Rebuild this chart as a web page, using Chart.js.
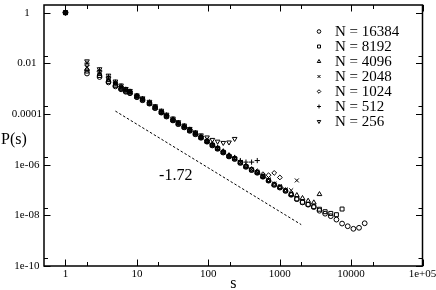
<!DOCTYPE html>
<html>
<head>
<meta charset="utf-8">
<script src="https://cdn.jsdelivr.net/npm/chart.js@4.4.1/dist/chart.umd.min.js"></script>
<style>
  html, body { margin: 0; padding: 0; background: #fff; }
  #wrap { width: 436px; height: 290px; }
</style>
</head>
<body>
<div id="wrap"><canvas id="chart" width="436" height="290"></canvas></div>
<script>
// avalanche sizes (log binned)
const sizes = [1, 2, 3, 4, 5, 6, 7, 8, 10, 12, 15, 18, 22, 26, 32, 38, 46, 55, 66, 79,
  96, 114, 135, 162, 195, 234, 281, 337, 404, 485, 582, 698, 838, 1006, 1207, 1448, 1738,
  2086, 2503, 3004, 3605, 4326, 5191, 6229, 7475, 8970, 10764, 12917, 15500];

const pN16384 = [1, 3.95e-3, 2.88e-3, 1.76e-3, 1.23e-3, 9.40e-4, 7.51e-4, 6.57e-4, 4.59e-4,
  3.48e-4, 2.55e-4, 1.70e-4, 1.13e-4, 7.9e-5, 5.55e-5, 3.97e-5, 2.95e-5, 2.16e-5, 1.58e-5, 1.15e-5,
  8.05e-6, 5.72e-6, 4.22e-6, 3.0e-6, 2.1e-6, 1.67e-6, 1.17e-6, 8.2e-7, 6.1e-7, 4.77e-7,
  3.33e-7, 2.33e-7, 1.59e-7, 1.24e-7, 9.2e-8, 6.45e-8, 4.35e-8, 3.23e-8, 2.63e-8, 2.12e-8,
  1.52e-8, 1.16e-8, 9.27e-9, 6.78e-9, 4.73e-9, 3.71e-9, 2.94e-9, 3.22e-9, 4.86e-9];
const pN8192 = [1, 4.94e-3, 3.30e-3, 1.93e-3, 1.35e-3, 1.00e-3, 7.86e-4, 6.87e-4, 4.75e-4,
  3.55e-4, 2.6e-4, 1.74e-4, 1.15e-4, 8.1e-5, 5.65e-5, 4.05e-5, 3.02e-5, 2.2e-5, 1.61e-5, 1.17e-5,
  8.2e-6, 5.85e-6, 4.3e-6, 3.07e-6, 2.14e-6, 1.71e-6, 1.19e-6, 8.35e-7, 6.2e-7, 4.87e-7,
  3.4e-7, 2.38e-7, 1.62e-7, 1.27e-7, 9.4e-8, 6.6e-8, 4.45e-8, 3.3e-8, 2.7e-8, 2.2e-8,
  1.74e-8, 1.39e-8, 1.19e-8, 1.06e-8, 1.77e-8];
const pN4096 = [1, 5.91e-3, 3.71e-3, 2.15e-3, 1.45e-3, 1.06e-3, 8.22e-4, 7.12e-4, 4.88e-4,
  3.6e-4, 2.65e-4, 1.77e-4, 1.18e-4, 8.3e-5, 5.8e-5, 4.15e-5, 3.1e-5, 2.26e-5, 1.65e-5, 1.2e-5,
  8.4e-6, 6.0e-6, 4.42e-6, 3.14e-6, 2.2e-6, 1.75e-6, 1.22e-6, 8.55e-7, 6.37e-7, 5.0e-7,
  3.5e-7, 2.44e-7, 1.66e-7, 1.3e-7, 9.7e-8, 6.8e-8, 6.21e-8, 4.75e-8, 3.72e-8, 3.2e-8,
  6.79e-8];
const pN2048 = [1, 7.07e-3, 4.17e-3, 2.39e-3, 1.55e-3, 1.12e-3, 8.59e-4, 7.38e-4, 5.02e-4,
  3.66e-4, 2.68e-4, 1.79e-4, 1.19e-4, 8.34e-5, 5.83e-5, 4.18e-5, 3.11e-5, 2.27e-5, 1.66e-5, 1.21e-5,
  8.47e-6, 6.02e-6, 4.44e-6, 3.16e-6, 2.21e-6, 1.76e-6, 1.23e-6, 8.6e-7, 6.4e-7, 5.02e-7,
  3.6e-7, 2.6e-7, 1.8e-7, 1.4e-7, 1.05e-7, 9.72e-8, 2.38e-7];
const pN1024 = [1, 8.46e-3, 4.68e-3, 2.66e-3, 1.67e-3, 1.19e-3, 8.99e-4, 7.65e-4, 5.20e-4,
  3.84e-4, 2.81e-4, 1.88e-4, 1.25e-4, 8.75e-5, 6.1e-5, 4.39e-5, 3.27e-5, 2.38e-5, 1.74e-5, 1.27e-5,
  8.9e-6, 6.3e-6, 4.66e-6, 3.32e-6, 2.32e-6, 1.85e-6, 1.29e-6, 9.0e-7, 6.7e-7, 5.5e-7,
  4.2e-7, 3.84e-7, 4.72e-7, 3.12e-7];
const pN512 = [1, 1.01e-2, 5.26e-3, 2.96e-3, 1.79e-3, 1.26e-3, 9.40e-4, 7.86e-4, 5.34e-4,
  4.0e-4, 2.93e-4, 1.96e-4, 1.30e-4, 9.1e-5, 6.4e-5, 4.57e-5, 3.4e-5, 2.48e-5, 1.81e-5, 1.32e-5,
  9.25e-6, 6.6e-6, 4.85e-6, 3.45e-6, 2.42e-6, 1.92e-6, 1.45e-6, 1.26e-6, 1.26e-6, 1.45e-6];
const pN256 = [1, 1.21e-2, 5.91e-3, 3.30e-3, 1.93e-3, 1.35e-3, 9.83e-4, 8.22e-4, 5.49e-4,
  4.2e-4, 3.05e-4, 2.05e-4, 1.36e-4, 9.5e-5, 6.7e-5, 4.8e-5, 3.55e-5, 2.6e-5, 1.9e-5, 1.45e-5,
  1.2e-5, 9.6e-6, 8.2e-6, 7.3e-6, 7.6e-6, 1.05e-5];

const seriesNames = ['N = 16384', 'N = 8192', 'N = 4096', 'N = 2048', 'N = 1024', 'N = 512', 'N = 256'];

// slope guide
const guideS = [5, 2000];
const guideP = [1.3e-4, 4.3e-9];
const slopeLabel = '-1.72';

const xMajor = [1, 10, 100, 1000, 10000, 100000];
const xMinor = [2, 20, 200, 2000, 20000];
const xTickLabels = ['1', '10', '100', '1000', '10000', '1e+05'];
const yMajor = [1e-10, 1e-8, 1e-6, 1e-4, 1e-2, 1];
const yMinor = [2e-10, 2e-8, 2e-6, 2e-4, 2e-2];
const yTickLabels = ['1e-10', '1e-08', '1e-06', '0.0001', '0.01', '1'];

const FONT = "'Liberation Serif', 'Times New Roman', serif";

const styles = [
  {pointStyle: 'circle', radius: 2.4, rotation: 0},
  {pointStyle: 'rect', radius: 2.8, rotation: 0},
  {pointStyle: 'triangle', radius: 2.7, rotation: 0},
  {pointStyle: 'crossRot', radius: 2.8, rotation: 0},
  {pointStyle: 'rectRot', radius: 2.4, rotation: 0},
  {pointStyle: 'cross', radius: 2.6, rotation: 0},
  {pointStyle: 'triangle', radius: 2.7, rotation: 180}
];

const allSeries = [pN16384, pN8192, pN4096, pN2048, pN1024, pN512, pN256];

const datasets = allSeries.map((vals, i) => ({
  label: seriesNames[i],
  data: vals.map((p, j) => ({x: sizes[j], y: p})),
  showLine: false,
  pointStyle: styles[i].pointStyle,
  pointRadius: styles[i].radius,
  pointRotation: styles[i].rotation,
  pointBorderWidth: 1,
  pointBorderColor: '#000',
  pointBackgroundColor: 'rgba(0,0,0,0)',
  borderColor: '#000'
}));

datasets.push({
  label: 'guide',
  data: guideS.map((s, i) => ({x: s, y: guideP[i]})),
  showLine: true,
  borderColor: '#000',
  borderWidth: 1,
  borderDash: [2.5, 2],
  pointRadius: 0
});

function ticksFrom(major, minor) {
  return major.map(v => ({value: v, major: true}))
    .concat(minor.map(v => ({value: v, major: false})))
    .sort((a, b) => a.value - b.value);
}

const framePlugin = {
  id: 'frame',
  afterDatasetsDraw(chart) {
    const {ctx, chartArea: a, scales} = chart;
    ctx.save();
    ctx.strokeStyle = '#000';
    ctx.lineWidth = 1;
    ctx.beginPath();
    scales.x.ticks.forEach(t => {
      const px = Math.round(scales.x.getPixelForValue(t.value)) + 0.5;
      const len = t.major ? 6.5 : 4;
      ctx.moveTo(px, a.bottom); ctx.lineTo(px, a.bottom - len);
      ctx.moveTo(px, a.top); ctx.lineTo(px, a.top + len);
    });
    scales.y.ticks.forEach(t => {
      const py = Math.round(scales.y.getPixelForValue(t.value)) + 0.5;
      const len = t.major ? 6.5 : 4;
      ctx.moveTo(a.left, py); ctx.lineTo(a.left + len, py);
      ctx.moveTo(a.right, py); ctx.lineTo(a.right - len, py);
    });
    ctx.stroke();
    ctx.lineWidth = 1.5;
    ctx.strokeRect(a.left, a.top, a.right - a.left, a.bottom - a.top);

    // axis titles
    ctx.fillStyle = '#000';
    ctx.font = '16px ' + FONT;
    ctx.textBaseline = 'middle';
    ctx.textAlign = 'center';
    ctx.fillText('s', (a.left + a.right) / 2, 283.5);
    ctx.textAlign = 'left';
    ctx.fillText('P(s)', 1, 140);

    // slope label
    ctx.textAlign = 'center';
    ctx.fillText(slopeLabel, scales.x.getPixelForValue(35), scales.y.getPixelForValue(3.8e-7));

    // legend
    const lx = 319, ly = 31.5, step = 15;
    ctx.font = '15px ' + FONT;
    ctx.textAlign = 'left';
    seriesNames.forEach((name, i) => {
      const y = ly + i * step;
      ctx.lineWidth = 1;
      ctx.strokeStyle = '#000';
      ctx.fillStyle = 'rgba(0,0,0,0)';
      Chart.helpers.drawPoint(ctx, {
        pointStyle: styles[i].pointStyle,
        rotation: styles[i].rotation,
        radius: styles[i].radius * 0.75,
        borderWidth: 1
      }, lx, y);
      ctx.fillStyle = '#000';
      ctx.fillText(name, 335, y + 0.5);
    });
    ctx.restore();
  }
};

new Chart(document.getElementById('chart'), {
  type: 'scatter',
  data: {datasets},
  options: {
    responsive: false,
    animation: false,
    devicePixelRatio: 1,
    layout: {padding: {left: 0, right: 13.5, top: 1, bottom: 0}},
    plugins: {legend: {display: false}, tooltip: {enabled: false}},
    scales: {
      x: {
        type: 'logarithmic',
        min: 0.5,
        max: 100000,
        grid: {display: false, drawTicks: false},
        border: {display: false},
        afterBuildTicks: s => { s.ticks = ticksFrom(xMajor, xMinor); },
        afterFit: s => { s.height = 24; s.paddingLeft = 0; s.paddingRight = 0; },
        ticks: {
          autoSkip: false,
          maxRotation: 0,
          padding: 2,
          color: '#000',
          font: {family: FONT, size: 11},
          callback: v => { const i = xMajor.indexOf(v); return i >= 0 ? xTickLabels[i] : ''; }
        }
      },
      y: {
        type: 'logarithmic',
        min: 1e-10,
        max: 2,
        grid: {display: false, drawTicks: false},
        border: {display: false},
        afterBuildTicks: s => { s.ticks = ticksFrom(yMajor, yMinor); },
        afterFit: s => { s.width = 44; s.paddingTop = 0; s.paddingBottom = 0; },
        ticks: {
          autoSkip: false,
          padding: 2,
          crossAlign: 'center',
          color: '#000',
          font: {family: FONT, size: 11},
          callback: v => { const i = yMajor.indexOf(v); return i >= 0 ? yTickLabels[i] : ''; }
        }
      }
    }
  },
  plugins: [framePlugin]
});
</script>
</body>
</html>
